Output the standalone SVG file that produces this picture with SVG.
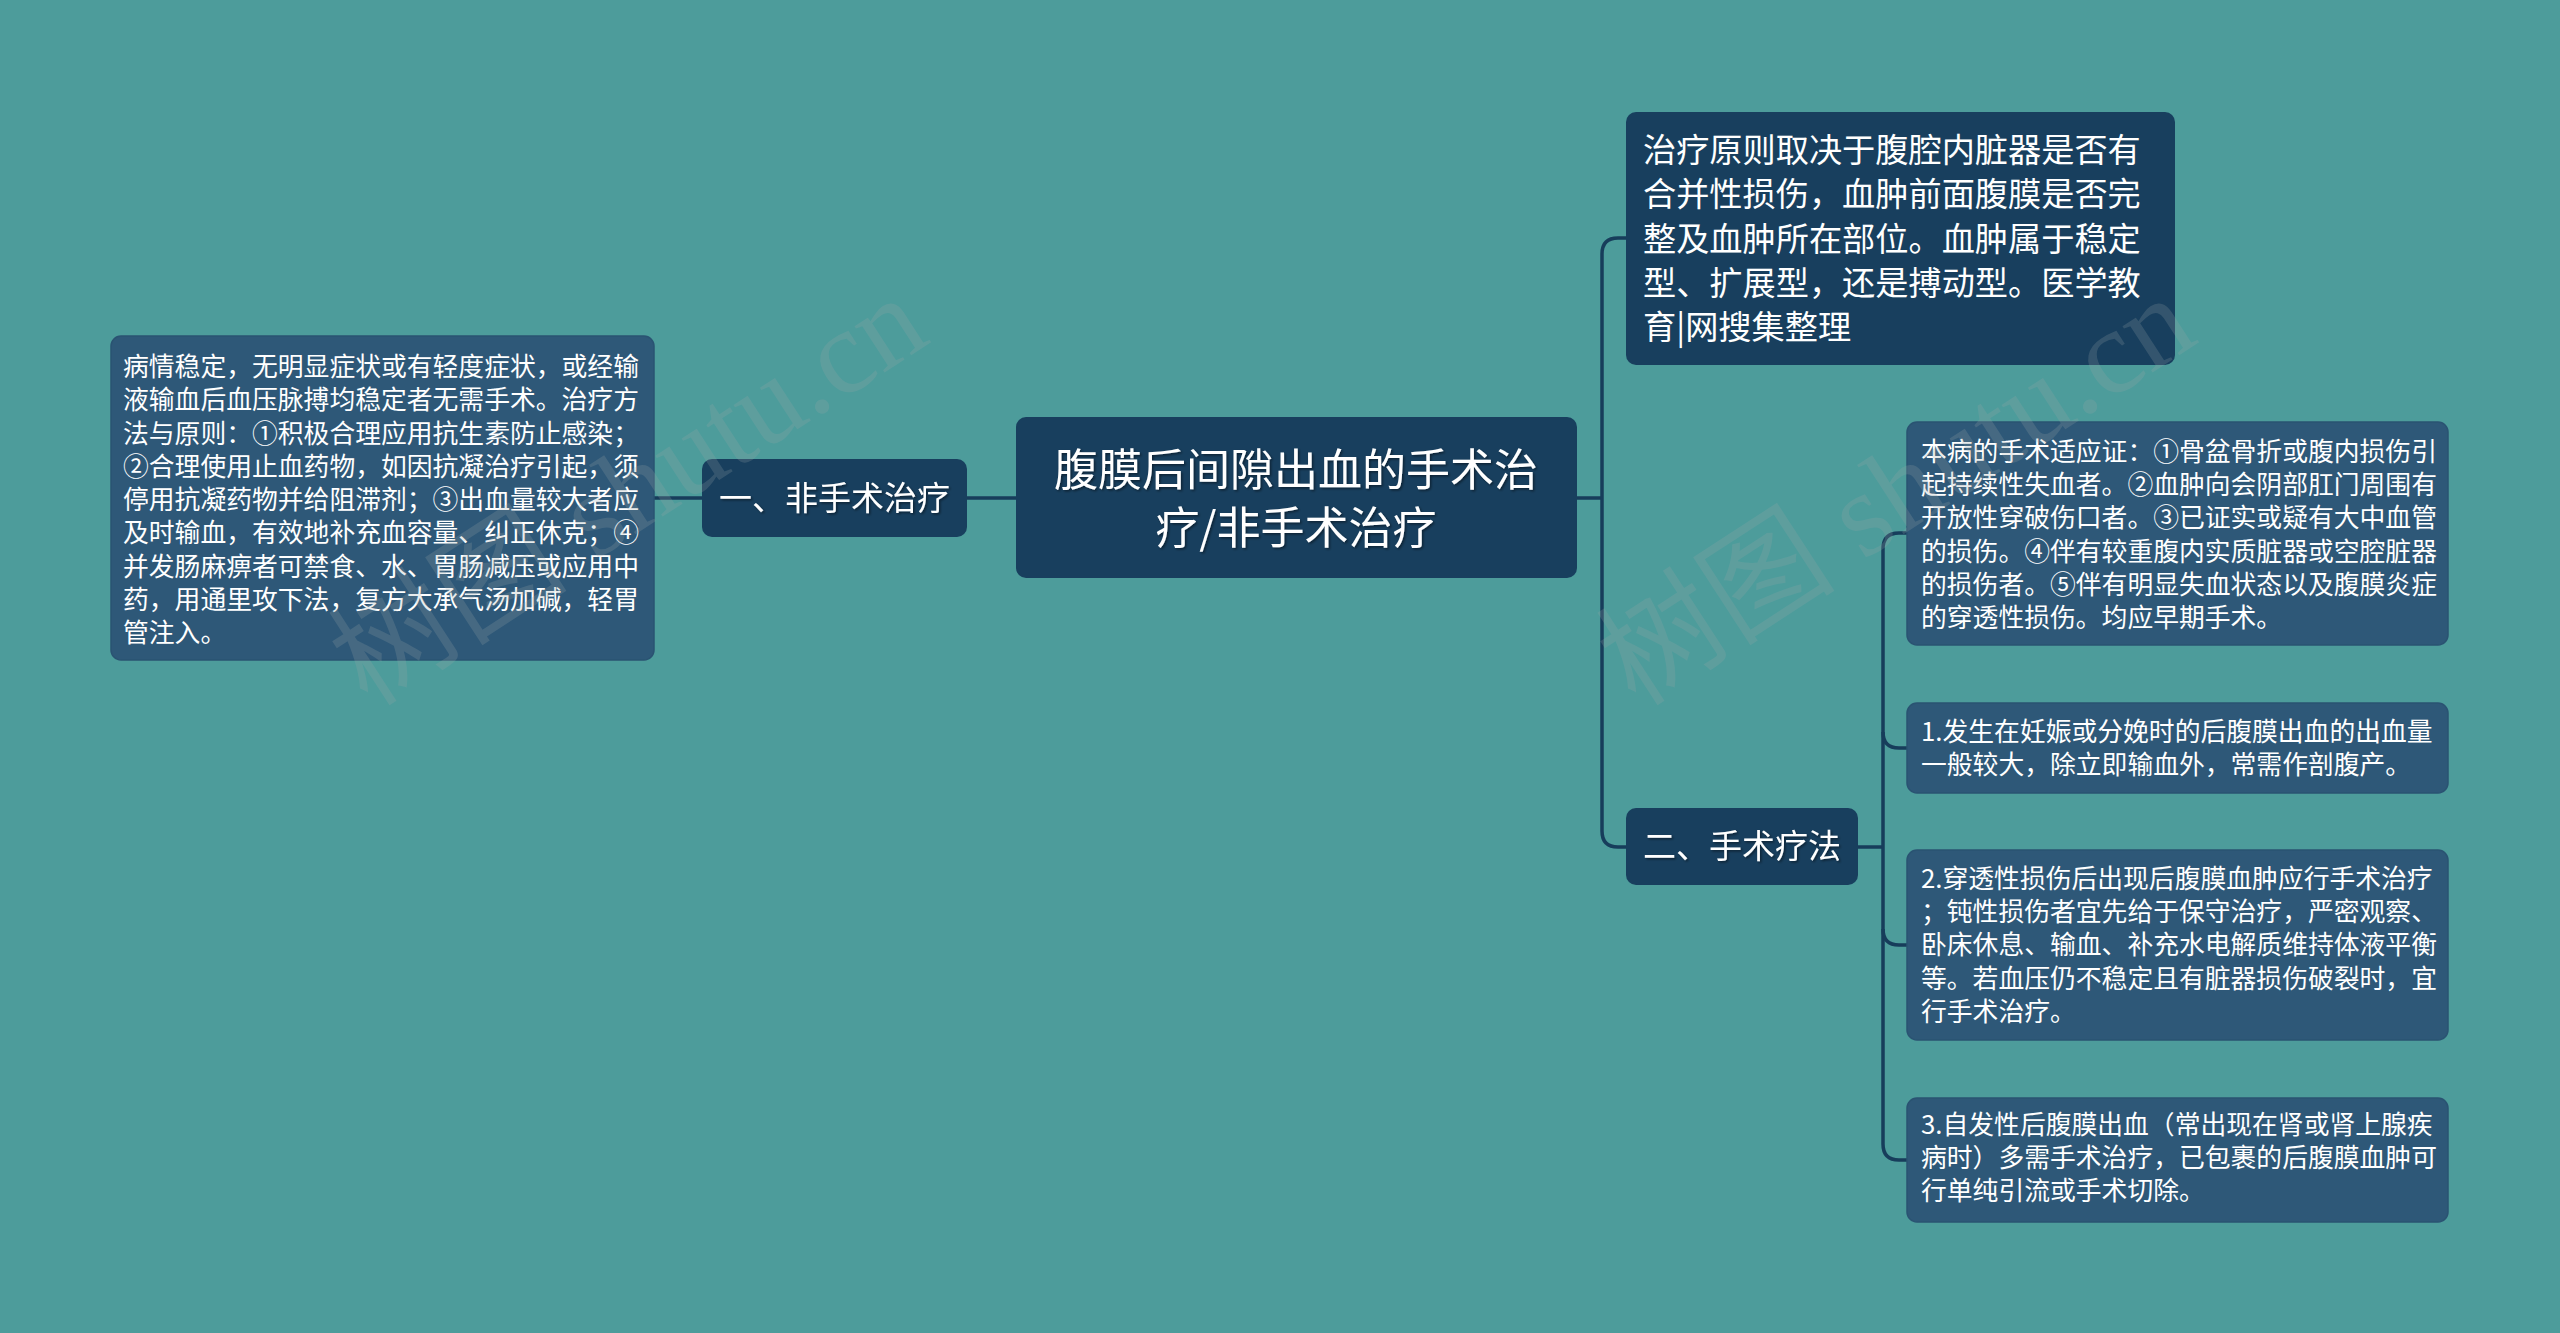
<svg xmlns="http://www.w3.org/2000/svg" width="2560" height="1333" viewBox="0 0 2560 1333">
<defs>
<style>
.bg{fill:#4D9C9B}
.dark{fill:#183F5E}
.leaf{fill:#2E5878;stroke:#2A5372;stroke-width:1.5}
.t{font-family:"Noto Sans CJK SC","Noto Sans",sans-serif;fill:#FFFFFF}
.s26{font-size:25.8px}
.s35{font-size:33.2px}
.s33{font-size:33px}
.s44{font-size:44px}
.conn{fill:none;stroke:#173D5B;stroke-width:3.5}
.wm{font-family:"Liberation Serif","Noto Sans CJK SC",serif;font-size:120px;fill:#9AA6A8;opacity:0.22}
</style>
<filter id="sh" x="-5%" y="-5%" width="110%" height="120%">
<feDropShadow dx="1.5" dy="1.5" stdDeviation="0.8" flood-color="#000000" flood-opacity="0.45"/>
</filter>
</defs>
<rect class="bg" x="0" y="0" width="2560" height="1333"/>

<g id="connectors">
<path class="conn" d="M1016 498 H967"/>
<path class="conn" d="M702 498 H654"/>
<path class="conn" d="M1577 498 H1602"/>
<path class="conn" d="M1626 238 H1618 Q1602 238 1602 254 V831 Q1602 847 1618 847 H1626"/>
<path class="conn" d="M1858 847 H1883"/>
<path class="conn" d="M1907 533 H1899 Q1883 533 1883 549 V1144 Q1883 1160 1899 1160 H1907"/>
<path class="conn" d="M1883 732 Q1883 748 1899 748 H1907"/>
<path class="conn" d="M1883 929 Q1883 945 1899 945 H1907"/>
</g>

<g id="node-center">
<rect class="dark" x="1016" y="417" width="561" height="161" rx="10"/>
<g filter="url(#sh)">
<text class="t s44" x="1296" y="486" text-anchor="middle">腹膜后间隙出血的手术治</text>
<text class="t s44" x="1296" y="544" text-anchor="middle">疗/非手术治疗</text>
</g>
</g>

<g id="node-nonsurgical">
<rect class="dark" x="702" y="459" width="265" height="78" rx="10"/>
<text class="t s33" x="834.5" y="510" text-anchor="middle" filter="url(#sh)">一、非手术治疗</text>
</g>

<g id="node-left-detail">
<rect class="leaf" x="111" y="336" width="543" height="324" rx="10"/>
<text class="t s26" x="123" y="376">病情稳定，无明显症状或有轻度症状，或经输</text>
<text class="t s26" x="123" y="409.25">液输血后血压脉搏均稳定者无需手术。治疗方</text>
<text class="t s26" x="123" y="442.5">法与原则：①积极合理应用抗生素防止感染；</text>
<text class="t s26" x="123" y="475.75">②合理使用止血药物，如因抗凝治疗引起，须</text>
<text class="t s26" x="123" y="509">停用抗凝药物并给阻滞剂；③出血量较大者应</text>
<text class="t s26" x="123" y="542.25">及时输血，有效地补充血容量、纠正休克；④</text>
<text class="t s26" x="123" y="575.5">并发肠麻痹者可禁食、水、胃肠减压或应用中</text>
<text class="t s26" x="123" y="608.75">药，用通里攻下法，复方大承气汤加碱，轻胃</text>
<text class="t s26" x="123" y="642">管注入。</text>
</g>

<g id="node-principle">
<rect class="dark" x="1626" y="112" width="549" height="253" rx="10"/>
<text class="t s35" x="1643" y="162">治疗原则取决于腹腔内脏器是否有</text>
<text class="t s35" x="1643" y="206.25">合并性损伤，血肿前面腹膜是否完</text>
<text class="t s35" x="1643" y="250.5">整及血肿所在部位。血肿属于稳定</text>
<text class="t s35" x="1643" y="294.75">型、扩展型，还是搏动型。医学教</text>
<text class="t s35" x="1643" y="339">育|网搜集整理</text>
</g>

<g id="node-surgical">
<rect class="dark" x="1626" y="808" width="232" height="77" rx="10"/>
<text class="t s33" x="1742" y="858" text-anchor="middle" filter="url(#sh)">二、手术疗法</text>
</g>

<g id="node-indications">
<rect class="leaf" x="1907" y="422" width="541" height="223" rx="10"/>
<text class="t s26" x="1921" y="461">本病的手术适应证：①骨盆骨折或腹内损伤引</text>
<text class="t s26" x="1921" y="494.2">起持续性失血者。②血肿向会阴部肛门周围有</text>
<text class="t s26" x="1921" y="527.4">开放性穿破伤口者。③已证实或疑有大中血管</text>
<text class="t s26" x="1921" y="560.6">的损伤。④伴有较重腹内实质脏器或空腔脏器</text>
<text class="t s26" x="1921" y="593.8">的损伤者。⑤伴有明显失血状态以及腹膜炎症</text>
<text class="t s26" x="1921" y="627">的穿透性损伤。均应早期手术。</text>
</g>

<g id="node-item1">
<rect class="leaf" x="1907" y="703" width="541" height="90" rx="10"/>
<text class="t s26" x="1921" y="741">1.发生在妊娠或分娩时的后腹膜出血的出血量</text>
<text class="t s26" x="1921" y="774.2">一般较大，除立即输血外，常需作剖腹产。</text>
</g>

<g id="node-item2">
<rect class="leaf" x="1907" y="850" width="541" height="190" rx="10"/>
<text class="t s26" x="1921" y="888">2.穿透性损伤后出现后腹膜血肿应行手术治疗</text>
<text class="t s26" x="1921" y="921.2">；钝性损伤者宜先给于保守治疗，严密观察、</text>
<text class="t s26" x="1921" y="954.4">卧床休息、输血、补充水电解质维持体液平衡</text>
<text class="t s26" x="1921" y="987.6">等。若血压仍不稳定且有脏器损伤破裂时，宜</text>
<text class="t s26" x="1921" y="1020.8">行手术治疗。</text>
</g>

<g id="node-item3">
<rect class="leaf" x="1907" y="1098" width="541" height="124" rx="10"/>
<text class="t s26" x="1921" y="1134">3.自发性后腹膜出血（常出现在肾或肾上腺疾</text>
<text class="t s26" x="1921" y="1167.2">病时）多需手术治疗，已包裹的后腹膜血肿可</text>
<text class="t s26" x="1921" y="1200.4">行单纯引流或手术切除。</text>
</g>

<g id="watermarks">
<text class="wm" transform="translate(368 708) rotate(-33)">树图 shutu.cn</text>
<text class="wm" transform="translate(1636 708) rotate(-33)">树图 shutu.cn</text>
</g>
</svg>
